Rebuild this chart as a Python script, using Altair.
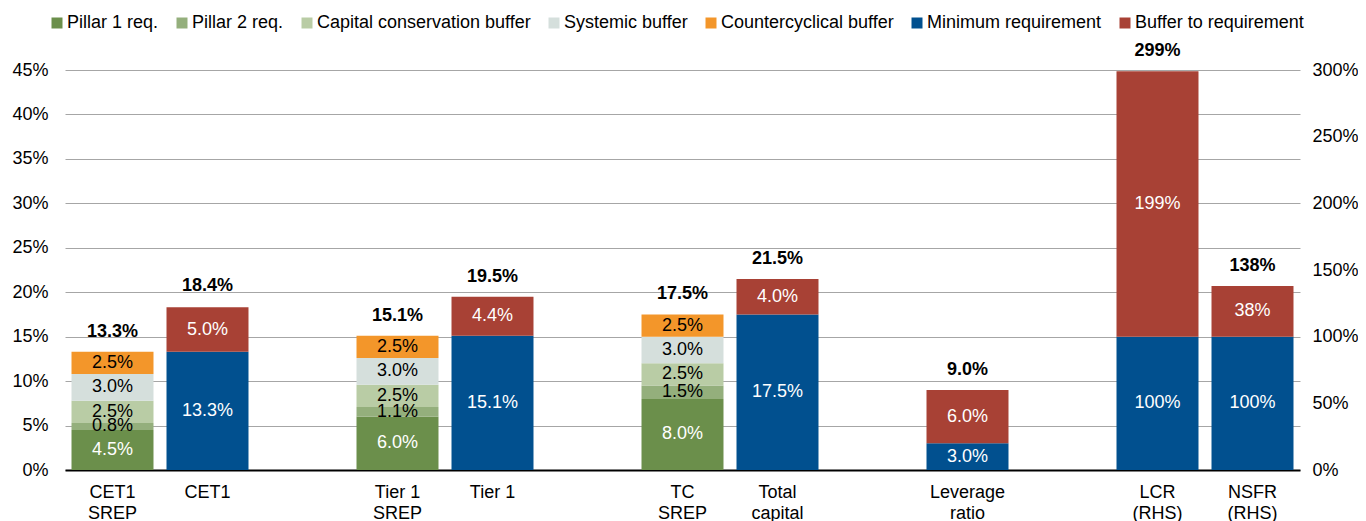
import altair as alt
import pandas as pd

FONT = "Liberation Sans, Arial, sans-serif"

# x slots (blank names are the empty gaps between groups)
SLOTS = ["CET1|SREP", "CET1", " ", "Tier 1|SREP", "Tier 1", "  ", "TC|SREP",
         "Total|capital", "   ", "Leverage|ratio", "    ", "LCR|(RHS)", "NSFR|(RHS)"]

SERIES = ["Pillar 1 req.", "Pillar 2 req.", "Capital conservation buffer",
          "Systemic buffer", "Countercyclical buffer", "Minimum requirement",
          "Buffer to requirement"]
COLORS = ["#6B8F4B", "#94AF7C", "#B9CCA5", "#D5DFDC", "#F3962A", "#01508F", "#A84135"]
WHITE_TEXT_SERIES = ["Pillar 1 req.", "Minimum requirement", "Buffer to requirement"]

# SREP requirement stacks (LHS, %)
SREP_CATS = ["CET1|SREP", "Tier 1|SREP", "TC|SREP"]
PILLAR1 = [4.5, 6.0, 8.0]
PILLAR2 = [0.8, 1.1, 1.5]
CCB = [2.5, 2.5, 2.5]
SYSTEMIC = [3.0, 3.0, 3.0]
CCYB = [2.5, 2.5, 2.5]

# Actual capital / leverage (LHS, %)
LHS_CATS = ["CET1", "Tier 1", "Total|capital", "Leverage|ratio"]
LHS_MIN = [13.3, 15.1, 17.5, 3.0]
LHS_BUF = [5.0, 4.4, 4.0, 6.0]

# Liquidity ratios (RHS, %)
RHS_CATS = ["LCR|(RHS)", "NSFR|(RHS)"]
RHS_MIN = [100, 100]
RHS_BUF = [199, 38]

# Totals shown above bars
LHS_TOTAL_CATS = ["CET1|SREP", "CET1", "Tier 1|SREP", "Tier 1", "TC|SREP",
                  "Total|capital", "Leverage|ratio"]
LHS_TOTALS = [13.3, 18.4, 15.1, 19.5, 17.5, 21.5, 9.0]
RHS_TOTAL_CATS = ["LCR|(RHS)", "NSFR|(RHS)"]
RHS_TOTALS = [299, 138]

# ---- build tables
rows_l = []
for i, c in enumerate(SREP_CATS):
    for s, v in zip(SERIES[:5], [PILLAR1[i], PILLAR2[i], CCB[i], SYSTEMIC[i], CCYB[i]]):
        rows_l.append({"cat": c, "series": s, "value": v, "order": SERIES.index(s)})
for i, c in enumerate(LHS_CATS):
    rows_l.append({"cat": c, "series": SERIES[5], "value": LHS_MIN[i], "order": 5})
    rows_l.append({"cat": c, "series": SERIES[6], "value": LHS_BUF[i], "order": 6})
rows_r = []
for i, c in enumerate(RHS_CATS):
    rows_r.append({"cat": c, "series": SERIES[5], "value": RHS_MIN[i], "order": 5})
    rows_r.append({"cat": c, "series": SERIES[6], "value": RHS_BUF[i], "order": 6})

df_l = pd.DataFrame(rows_l)
df_r = pd.DataFrame(rows_r)
tot_l = pd.DataFrame({"cat": LHS_TOTAL_CATS, "total": LHS_TOTALS})
tot_r = pd.DataFrame({"cat": RHS_TOTAL_CATS, "total": RHS_TOTALS})

x_enc = alt.X(
    "cat:N",
    scale=alt.Scale(domain=SLOTS, paddingInner=0.137, paddingOuter=0.0685),
    sort=SLOTS,
    axis=alt.Axis(
        title=None, labelAngle=0, ticks=False, labelPadding=13,
        labelExpr="split(datum.label, '|')", labelLineHeight=21,
        labelFontSize=18, labelFont=FONT, labelColor="#000000",
        domainColor="#000000", domainWidth=2, labelBaseline="top",
    ),
)

color_enc = alt.Color("series:N", scale=alt.Scale(domain=SERIES, range=COLORS),
                      legend=alt.Legend(title=None))


def panel(df, tot, domain, tick_vals, orient, grid, fmt, lab_pad):
    base = alt.Chart(df).transform_stack(
        stack="value", as_=["y0", "y1"], groupby=["cat"],
        sort=[alt.SortField("order", order="ascending")],
    )
    yscale = alt.Scale(domain=domain, nice=False, zero=True)
    yaxis = alt.Axis(
        title=None, orient=orient, values=tick_vals, grid=grid, ticks=False,
        domain=False, labelPadding=lab_pad, labelFontSize=18, labelFont=FONT,
        labelColor="#000000", gridColor="#A6A6A6", gridWidth=1,
        labelExpr="datum.value + '%'",
    )
    bars = base.mark_bar().encode(
        x=x_enc,
        y=alt.Y("y0:Q", scale=yscale, axis=yaxis),
        y2="y1:Q",
        color=color_enc,
    )
    seg_text = base.transform_calculate(
        mid="(datum.y0 + datum.y1) / 2",
        label=f"format(datum.value, '{fmt}') + '%'",
        tcol="indexof(" + str(WHITE_TEXT_SERIES) + ", datum.series) >= 0 ? '#FFFFFF' : '#000000'",
    ).mark_text(fontSize=18, font=FONT, baseline="middle").encode(
        x=x_enc,
        y=alt.Y("mid:Q", scale=yscale, axis=yaxis),
        text="label:N",
        color=alt.Color("tcol:N", scale=None),
    )
    tot_text = alt.Chart(tot).transform_calculate(
        label=f"format(datum.total, '{fmt}') + '%'"
    ).mark_text(fontSize=18, font=FONT, fontWeight="bold", baseline="middle",
                dy=-20, color="#000000").encode(
        x=x_enc,
        y=alt.Y("total:Q", scale=yscale, axis=yaxis),
        text="label:N",
    )
    return alt.layer(bars, seg_text, tot_text)


left = panel(df_l, tot_l, [0, 45], [0, 5, 10, 15, 20, 25, 30, 35, 40, 45], "left", True, ".1f", 17)
right = panel(df_r, tot_r, [0, 300], [0, 50, 100, 150, 200, 250, 300], "right", False, ".0f", 12)

chart = alt.layer(left, right).resolve_scale(y="independent").properties(
    width=1235,
    height=400,
    padding={"left": 57, "top": 62, "right": 58, "bottom": 51},
    autosize=alt.AutoSizeParams(type="none"),
).configure_view(stroke=None).configure_legend(
    orient="none", legendX=-17, legendY=-56, direction="horizontal",
    symbolType="square", symbolSize=121, symbolStrokeWidth=0,
    labelFontSize=18, labelFont=FONT, labelColor="#000000", labelOffset=1,
    columnPadding=14, labelLimit=400,
)

chart.save("out.html", embed_options={"renderer": "svg", "actions": False})
